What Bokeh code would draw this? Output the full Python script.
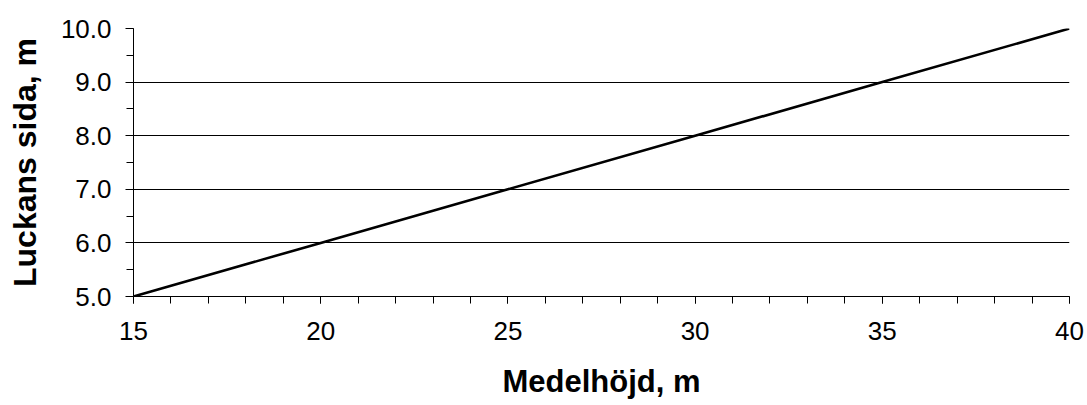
from bokeh.plotting import figure
from bokeh.models import Range1d, SingleIntervalTicker, PrintfTickFormatter
from bokeh.embed import file_html
from bokeh.resources import INLINE

# Data
medelhojd = [15, 20, 25, 30, 35, 40]
luckans_sida = [5.0, 6.0, 7.0, 8.0, 9.0, 10.0]
x_title = "Medelhöjd, m"
y_title = "Luckans sida, m"

FONT = "Liberation Sans"

p = figure(width=1087, height=405, output_backend="svg", toolbar_location=None,
           x_range=Range1d(15, 40), y_range=Range1d(5, 10),
           min_border_left=133, min_border_right=18, min_border_top=28,
           min_border_bottom=109)
p.outline_line_color = None
p.background_fill_color = "white"
p.border_fill_color = "white"

p.line(medelhojd, luckans_sida, line_color="black", line_width=2.6)

# Grid
p.xgrid.grid_line_color = None
p.ygrid.grid_line_color = "black"
p.ygrid.grid_line_width = 1
p.ygrid.ticker = SingleIntervalTicker(interval=1, num_minor_ticks=2)

# X axis
xa = p.xaxis[0]
xa.ticker = SingleIntervalTicker(interval=5, num_minor_ticks=5)
xa.axis_label = x_title
xa.axis_line_color = "black"
xa.axis_line_width = 1
xa.major_tick_in = 0
xa.major_tick_out = 7
xa.minor_tick_in = 0
xa.minor_tick_out = 7
xa.major_tick_line_color = "black"
xa.minor_tick_line_color = "black"
xa.major_label_text_font = FONT
xa.major_label_text_font_size = "26px"
xa.major_label_text_color = "black"
xa.major_label_standoff = 18
xa.axis_label_text_font = FONT
xa.axis_label_text_font_size = "31px"
xa.axis_label_text_font_style = "bold"
xa.axis_label_text_color = "black"
xa.axis_label_standoff = 21

# Y axis
ya = p.yaxis[0]
ya.ticker = SingleIntervalTicker(interval=1, num_minor_ticks=2)
ya.formatter = PrintfTickFormatter(format="%.1f")
ya.axis_label = y_title
ya.axis_line_color = "black"
ya.axis_line_width = 1
ya.major_tick_in = 0
ya.major_tick_out = 8
ya.minor_tick_in = 0
ya.minor_tick_out = 7
ya.major_tick_line_color = "black"
ya.minor_tick_line_color = "black"
ya.major_label_text_font = FONT
ya.major_label_text_font_size = "26px"
ya.major_label_text_color = "black"
ya.major_label_standoff = 14
ya.axis_label_text_font = FONT
ya.axis_label_text_font_size = "32px"
ya.axis_label_text_font_style = "bold"
ya.axis_label_text_color = "black"
ya.axis_label_standoff = 15

open("out.html", "w").write(file_html(p, INLINE))
